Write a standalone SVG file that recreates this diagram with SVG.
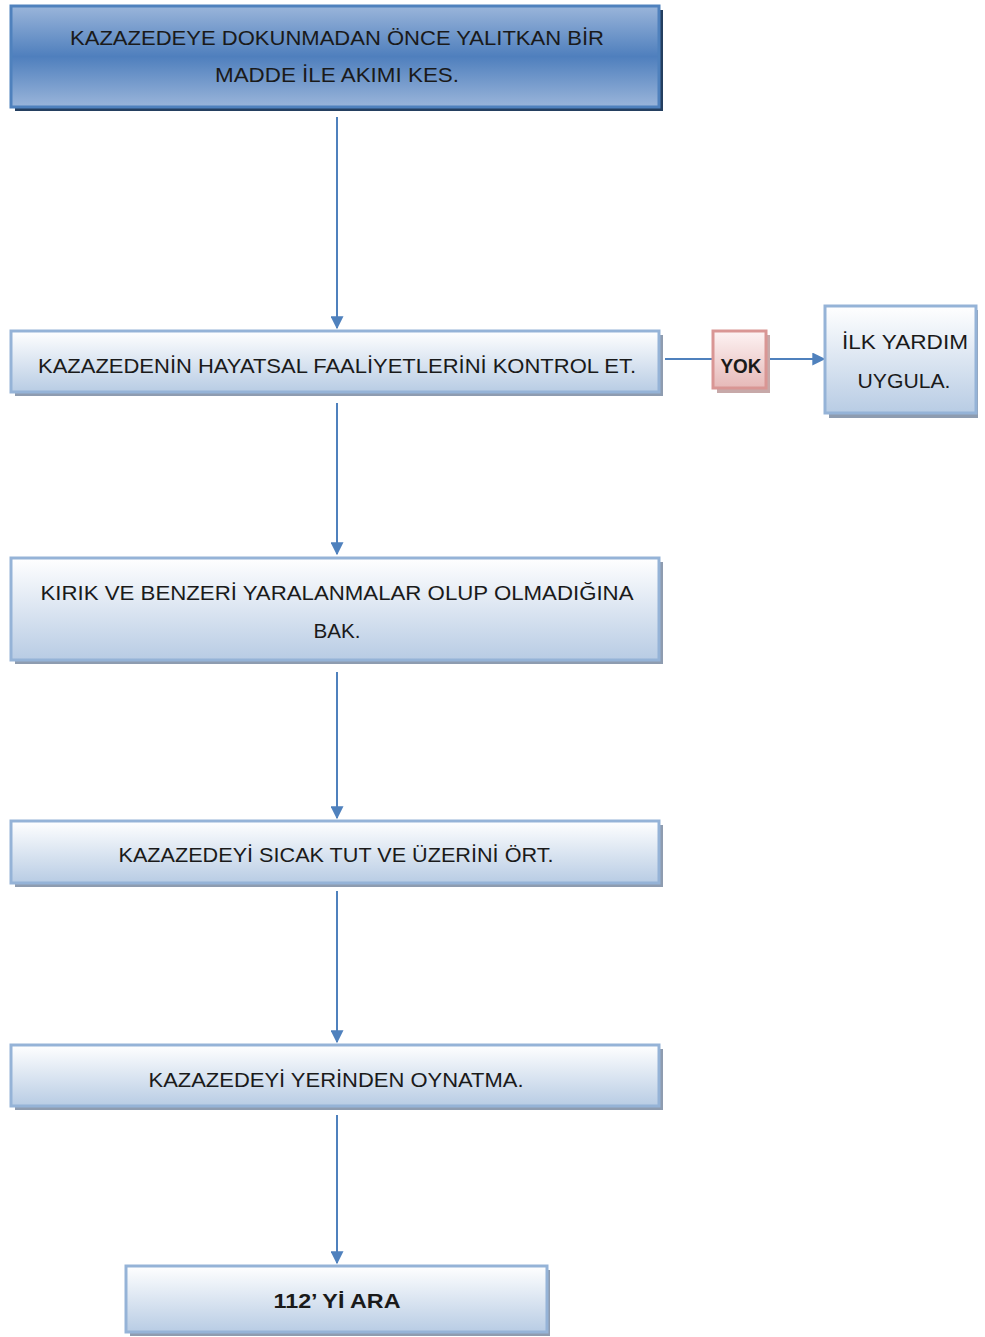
<svg xmlns="http://www.w3.org/2000/svg" width="985" height="1337" viewBox="0 0 985 1337">
<defs>
<linearGradient id="gDark" x1="0" y1="0" x2="0" y2="1">
<stop offset="0" stop-color="#9ab5da"/>
<stop offset="0.5" stop-color="#4f7fbd"/>
<stop offset="1" stop-color="#9ab5da"/>
</linearGradient>
<linearGradient id="gLight" x1="0" y1="0" x2="0" y2="1">
<stop offset="0" stop-color="#ffffff"/>
<stop offset="1" stop-color="#b8cce4"/>
</linearGradient>
<linearGradient id="gPink" x1="0" y1="0" x2="0" y2="1">
<stop offset="0" stop-color="#fdf3f3"/>
<stop offset="1" stop-color="#e6b9b8"/>
</linearGradient>
<marker id="arr" viewBox="0 0 10 10" refX="9" refY="5" markerWidth="13" markerHeight="13" orient="auto" markerUnits="userSpaceOnUse">
<path d="M0,0 L10,5 L0,10 z" fill="#4f81bd"/>
</marker>
</defs>
<style>
.shadow{fill:#8e9cb0;}
.dshadow{fill:#243f60;}
.light{fill:url(#gLight);stroke:#95b3d7;stroke-width:3;}
.dark{fill:url(#gDark);stroke:#4f81bd;stroke-width:3;}
.pink{fill:url(#gPink);stroke:#d99694;stroke-width:3;}
text{font-family:"Liberation Sans",Arial,sans-serif;font-size:21px;fill:#1a1a1a;text-anchor:middle;}
.b{font-weight:bold;}
.conn line{stroke:#4f81bd;stroke-width:2;fill:none;}
</style>
<g id="connectors" class="conn">
<line x1="337" y1="117" x2="337" y2="328" marker-end="url(#arr)"/>
<line x1="337" y1="403" x2="337" y2="554" marker-end="url(#arr)"/>
<line x1="337" y1="672" x2="337" y2="818" marker-end="url(#arr)"/>
<line x1="337" y1="891" x2="337" y2="1042" marker-end="url(#arr)"/>
<line x1="337" y1="1115" x2="337" y2="1263" marker-end="url(#arr)"/>
<line x1="665" y1="359" x2="713" y2="359"/>
<line x1="767" y1="359" x2="824" y2="359" marker-end="url(#arr)"/>
</g>
<g id="n1">
<rect class="dshadow" x="15" y="10" width="648" height="101"/>
<rect class="dark" x="11" y="6" width="648" height="101"/>
<text x="337" y="45" textLength="534" lengthAdjust="spacingAndGlyphs">KAZAZEDEYE DOKUNMADAN ÖNCE YALITKAN BİR</text>
<text x="337" y="82" textLength="244" lengthAdjust="spacingAndGlyphs">MADDE İLE AKIMI KES.</text>
</g>
<g id="n2">
<rect class="shadow" x="15" y="335" width="648" height="61"/>
<rect class="light" x="11" y="331" width="648" height="61"/>
<text x="337" y="373" textLength="598" lengthAdjust="spacingAndGlyphs">KAZAZEDENİN HAYATSAL FAALİYETLERİNİ KONTROL ET.</text>
</g>
<g id="yok">
<rect x="717" y="335" width="53" height="58" style="fill:#c7a9a9"/>
<rect class="pink" x="713" y="331" width="53" height="57"/>
<text class="b" x="741" y="373" textLength="41" lengthAdjust="spacingAndGlyphs">YOK</text>
</g>
<g id="n_ilk">
<rect class="shadow" x="829" y="310" width="149" height="108"/>
<rect class="light" x="825" y="306" width="151" height="107"/>
<text x="905" y="349" textLength="126" lengthAdjust="spacingAndGlyphs">İLK YARDIM</text>
<text x="904" y="388" textLength="93" lengthAdjust="spacingAndGlyphs">UYGULA.</text>
</g>
<g id="n3">
<rect class="shadow" x="15" y="562" width="648" height="102"/>
<rect class="light" x="11" y="558" width="648" height="102"/>
<text x="337" y="600" textLength="593" lengthAdjust="spacingAndGlyphs">KIRIK VE BENZERİ YARALANMALAR OLUP OLMADIĞINA</text>
<text x="337" y="638" textLength="47" lengthAdjust="spacingAndGlyphs">BAK.</text>
</g>
<g id="n4">
<rect class="shadow" x="15" y="825" width="648" height="62"/>
<rect class="light" x="11" y="821" width="648" height="62"/>
<text x="336" y="862" textLength="435" lengthAdjust="spacingAndGlyphs">KAZAZEDEYİ SICAK TUT VE ÜZERİNİ ÖRT.</text>
</g>
<g id="n5">
<rect class="shadow" x="15" y="1049" width="648" height="61"/>
<rect class="light" x="11" y="1045" width="648" height="61"/>
<text x="336" y="1087" textLength="375" lengthAdjust="spacingAndGlyphs">KAZAZEDEYİ YERİNDEN OYNATMA.</text>
</g>
<g id="n6">
<rect class="shadow" x="130" y="1270" width="420" height="66"/>
<rect class="light" x="126" y="1266" width="421" height="66"/>
<text class="b" x="337" y="1308" textLength="127" lengthAdjust="spacingAndGlyphs">112’ Yİ ARA</text>
</g>
</svg>
